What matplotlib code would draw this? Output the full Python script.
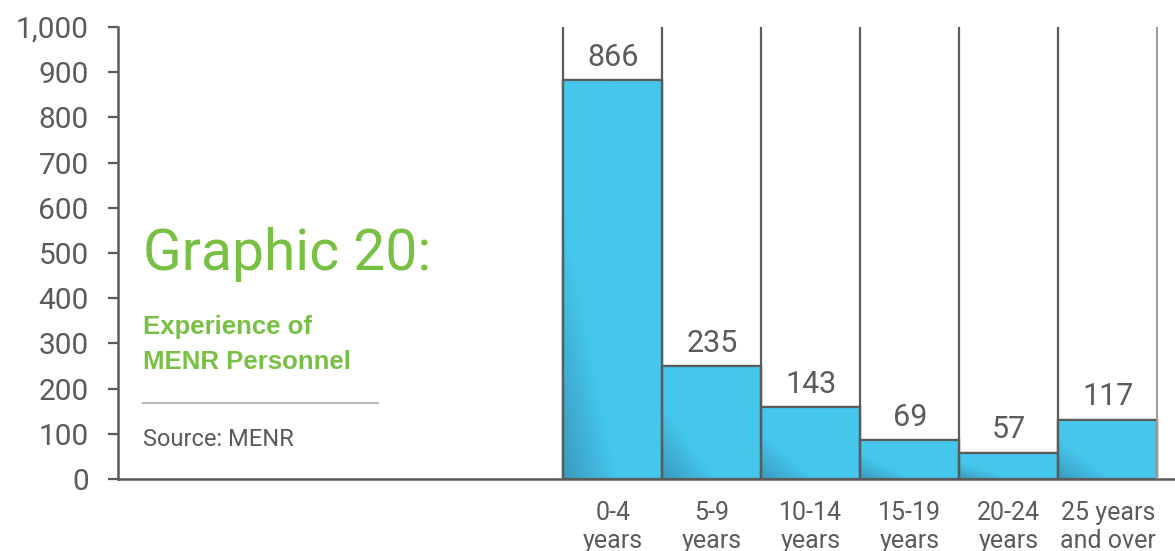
import matplotlib.pyplot as plt
import numpy as np
from matplotlib.colors import LinearSegmentedColormap

categories = ['0-4\nyears', '5-9\nyears', '10-14\nyears', '15-19\nyears', '20-24\nyears', '25 years\nand over']
value_labels = [866, 235, 143, 69, 57, 117]
# bar heights as drawn in the picture (slightly taller than the printed values)
bar_heights = [883, 250, 159, 86, 58, 131]
y_ticks = list(range(0, 1001, 100))

plt.rcParams['font.family'] = ['Roboto', 'DejaVu Sans']
gray = '#5b5b5b'
green = '#78c043'

fig = plt.figure(figsize=(11.75, 5.51), dpi=100)
ax = fig.add_axes([118 / 1175, 1 - 479 / 551, 1 - 118 / 1175, (479 - 27) / 551])

x = np.arange(len(categories))
bars = ax.bar(x, bar_heights, width=1.0, color='#45c7ed', edgecolor=gray, linewidth=1.6, zorder=2)

# soft gradient, darker at the bottom-left corner of each bar
cmap = LinearSegmentedColormap.from_list('blu', ['#3a9cbe', '#45c7ed', '#45c7ed'])
gx, gy = np.meshgrid(np.linspace(0, 1, 50), np.linspace(0, 1, 50))
grad = np.clip(gx * 1.8 + gy * 1.5, 0, 2) / 2
for b in bars:
    x0, w, h = b.get_x(), b.get_width(), b.get_height()
    im = ax.imshow(grad, cmap=cmap, extent=[x0, x0 + w, 0, h], origin='lower',
                   aspect='auto', zorder=2.5, vmin=0, vmax=1)
    im.set_clip_path(b)
    ax.bar(x0 + w / 2, h, width=w, fill=False, edgecolor=gray, linewidth=1.6, zorder=3)

# vertical separators going up to the top of the axis
edges = np.arange(len(categories) + 1) - 0.5
ax.vlines(edges[:-1], 0, 1000, color=gray, linewidth=1.6, zorder=3)
ax.vlines(edges[-1], 0, 1000, color='#9a9a9a', linewidth=1.4, zorder=3)

for xi, h, v in zip(x, bar_heights, value_labels):
    ax.annotate(str(v), (xi, h), xytext=(0, 6), textcoords='offset points',
                ha='center', va='bottom', fontsize=22, color=gray)

ax.set_xlim(-5.0, 5.68)
ax.set_ylim(0, 1000)
ax.set_yticks(y_ticks)
ax.set_yticklabels([f'{t:,}' for t in y_ticks])
ax.set_xticks(x)
ax.set_xticklabels(categories, linespacing=1.2)
ax.tick_params(axis='y', length=7, width=1.6, color=gray, labelsize=21.5, labelcolor=gray, pad=14)
ax.tick_params(axis='x', length=0, labelsize=18, labelcolor=gray, pad=16)

for s in ['top', 'right']:
    ax.spines[s].set_visible(False)
for s in ['left', 'bottom']:
    ax.spines[s].set_color(gray)
    ax.spines[s].set_linewidth(1.8)

# side caption
fig.text(143 / 1175, 1 - 270 / 551, 'Graphic 20:', fontsize=41, color=green,
         va='baseline')
fig.text(143 / 1175, 1 - 334 / 551, 'Experience of', fontsize=18.5, color=green,
         fontweight='bold', va='baseline', family=['Liberation Sans', 'DejaVu Sans'])
fig.text(143 / 1175, 1 - 369 / 551, 'MENR Personnel', fontsize=18.5, color=green,
         fontweight='bold', va='baseline', family=['Liberation Sans', 'DejaVu Sans'])
fig.add_artist(plt.Line2D([143 / 1175, 378 / 1175], [1 - 403 / 551, 1 - 403 / 551],
                          color='#bdbdbd', linewidth=1.6))
fig.text(143 / 1175, 1 - 446 / 551, 'Source: MENR', fontsize=17, color=gray,
         va='baseline')

fig.savefig('out.png', dpi=100)
